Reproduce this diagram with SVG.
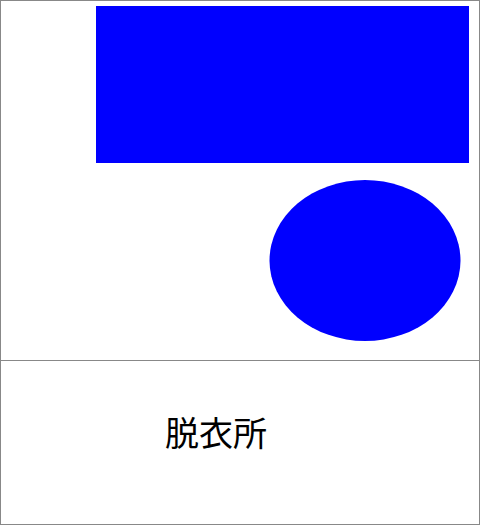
<svg xmlns="http://www.w3.org/2000/svg" width="480" height="525" viewBox="0 0 480 525">
<style>
.frame{fill:none;stroke:#888888;stroke-width:1}
.shape{fill:#0000ff;stroke:none}
.label{font-family:"Noto Sans CJK JP","Noto Sans",sans-serif;font-size:34px;fill:#000000}
</style>
<rect width="480" height="525" fill="#ffffff"/>
<g id="frame">
<rect class="frame" x="0.5" y="0.5" width="479" height="524"/>
<line class="frame" x1="0" y1="360.5" x2="480" y2="360.5"/>
</g>
<g id="rect-node"><rect class="shape" x="96" y="6" width="373" height="157"/></g>
<g id="ellipse-node"><ellipse class="shape" cx="365" cy="260.5" rx="95.5" ry="80.5"/></g>
<g id="label-node"><text class="label" x="216" y="445.5" text-anchor="middle">脱衣所</text></g>
<g id="connectors"></g>
</svg>
